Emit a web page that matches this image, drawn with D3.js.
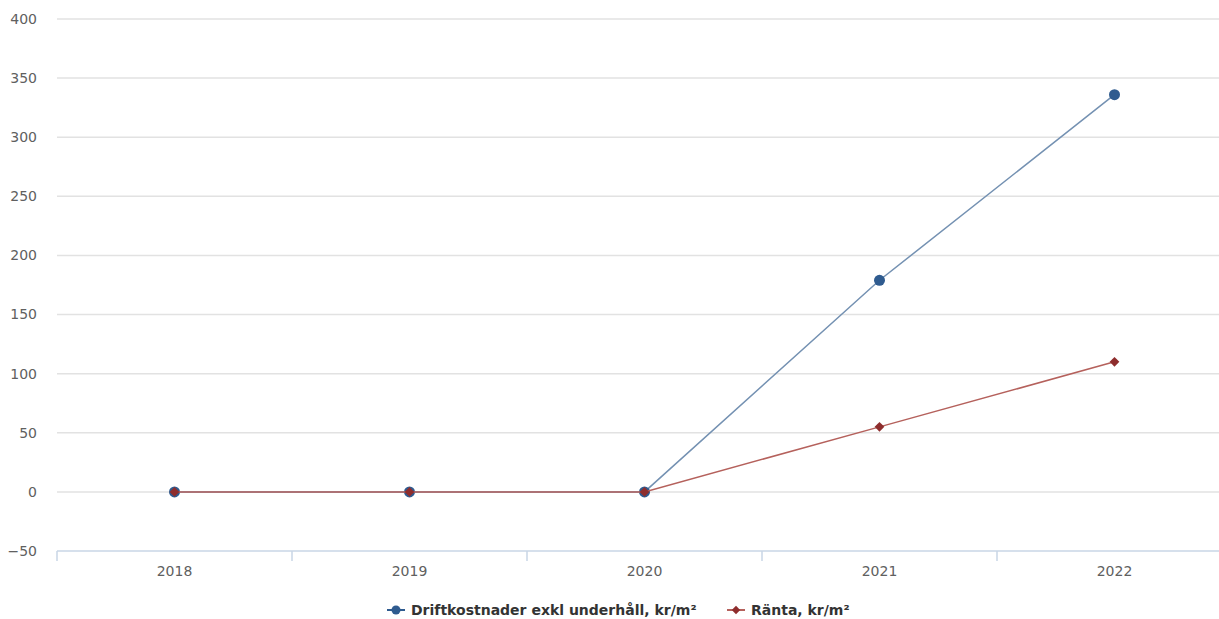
<!DOCTYPE html>
<html>
<head>
<meta charset="utf-8">
<script src="https://cdn.jsdelivr.net/npm/d3@7"></script>
<style>
  html, body { margin: 0; padding: 0; background: #fff; }
  svg { display: block; }
</style>
</head>
<body>
<svg id="chart" width="1219" height="619"></svg>
<script>
// Categories and series values
const years = ["2018", "2019", "2020", "2021", "2022"];
const driftkostnader = [0, 0, 0, 179, 336];
const ranta = [0, 0, 0, 55, 110];
const yTicks = [-50, 0, 50, 100, 150, 200, 250, 300, 350, 400];
const seriesNames = ["Driftkostnader exkl underhåll, kr/m²", "Ränta, kr/m²"];

const svg = d3.select("#chart");
const margin = { left: 57, top: 19, bottom: 551 };
const bandW = 235;

const x = d3.scaleBand()
  .domain(years)
  .range([margin.left, margin.left + bandW * years.length])
  .padding(0);

const y = d3.scaleLinear()
  .domain([-50, 400])
  .range([margin.bottom, margin.top]);

const font = "Tahoma, 'DejaVu Sans', Verdana, sans-serif";

// Horizontal gridlines
svg.append("g")
  .selectAll("line")
  .data(yTicks.filter(d => d !== -50))
  .join("line")
  .attr("x1", margin.left).attr("x2", 1219)
  .attr("y1", d => y(d)).attr("y2", d => y(d))
  .attr("stroke", "#e2e2e2").attr("stroke-width", 1.5);

// Y axis labels
svg.append("g")
  .selectAll("text")
  .data(yTicks)
  .join("text")
  .attr("x", 37)
  .attr("y", d => y(d))
  .attr("dy", "0.35em")
  .attr("text-anchor", "end")
  .attr("font-family", font)
  .attr("font-size", 14)
  .attr("fill", "#606060")
  .text(d => d < 0 ? "\u2212" + Math.abs(d) : d);

// X axis
const xAxis = d3.axisBottom(x).tickSize(0).tickSizeOuter(0);
const gx = svg.append("g")
  .attr("transform", `translate(0,${y(-50)})`)
  .call(xAxis);
gx.select(".domain").attr("stroke", "#c8d6e6").attr("stroke-width", 1.5)
  .attr("d", `M${margin.left},0H1219`);
gx.selectAll(".tick text")
  .attr("dy", 0)
  .attr("y", 25)
  .attr("font-family", font)
  .attr("font-size", 14)
  .attr("fill", "#606060");

// Tick marks at band boundaries
svg.append("g")
  .selectAll("line")
  .data(years)
  .join("line")
  .attr("x1", d => x(d)).attr("x2", d => x(d))
  .attr("y1", y(-50)).attr("y2", y(-50) + 10)
  .attr("stroke", "#c8d6e6").attr("stroke-width", 1.5);

const cx = d => x(d) + x.bandwidth() / 2;

const line = d3.line()
  .x((d, i) => cx(years[i]))
  .y(d => y(d));

// Driftkostnader series
svg.append("path")
  .datum(driftkostnader)
  .attr("d", line)
  .attr("fill", "none")
  .attr("stroke", "#7491b2")
  .attr("stroke-width", 1.5);

svg.append("g")
  .selectAll("circle")
  .data(driftkostnader)
  .join("circle")
  .attr("cx", (d, i) => cx(years[i]))
  .attr("cy", d => y(d))
  .attr("r", 5.5)
  .attr("fill", "#2f5b8f");

// Ränta series
svg.append("path")
  .datum(ranta)
  .attr("d", line)
  .attr("fill", "none")
  .attr("stroke", "#b5615c")
  .attr("stroke-width", 1.5);

const diamond = d3.symbol().type(d3.symbolDiamond2).size(60);
svg.append("g")
  .selectAll("path")
  .data(ranta)
  .join("path")
  .attr("transform", (d, i) => `translate(${cx(years[i])},${y(d)})`)
  .attr("d", diamond)
  .attr("fill", "#8e2d2d");

// Legend
const legend = svg.append("g").attr("font-family", font).attr("font-size", 14)
  .attr("fill", "#333");
const legendY = 610;
const lg1 = legend.append("g").attr("transform", `translate(387,${legendY})`);
lg1.append("line").attr("x1", 0).attr("x2", 18).attr("stroke", "#2f5b8f").attr("stroke-width", 2);
lg1.append("circle").attr("cx", 9).attr("r", 4.5).attr("fill", "#2f5b8f");
lg1.append("text").attr("x", 24).attr("dy", "0.35em").attr("font-weight", "bold")
  .attr("fill", "#333").text(seriesNames[0]);

const lg2 = legend.append("g").attr("transform", `translate(727,${legendY})`);
lg2.append("line").attr("x1", 0).attr("x2", 18).attr("stroke", "#b5615c").attr("stroke-width", 2);
lg2.append("path").attr("transform", "translate(9,0)").attr("d", d3.symbol().type(d3.symbolDiamond2).size(45)).attr("fill", "#8e2d2d");
lg2.append("text").attr("x", 24).attr("dy", "0.35em").attr("font-weight", "bold")
  .attr("fill", "#333").text(seriesNames[1]);
</script>
</body>
</html>
